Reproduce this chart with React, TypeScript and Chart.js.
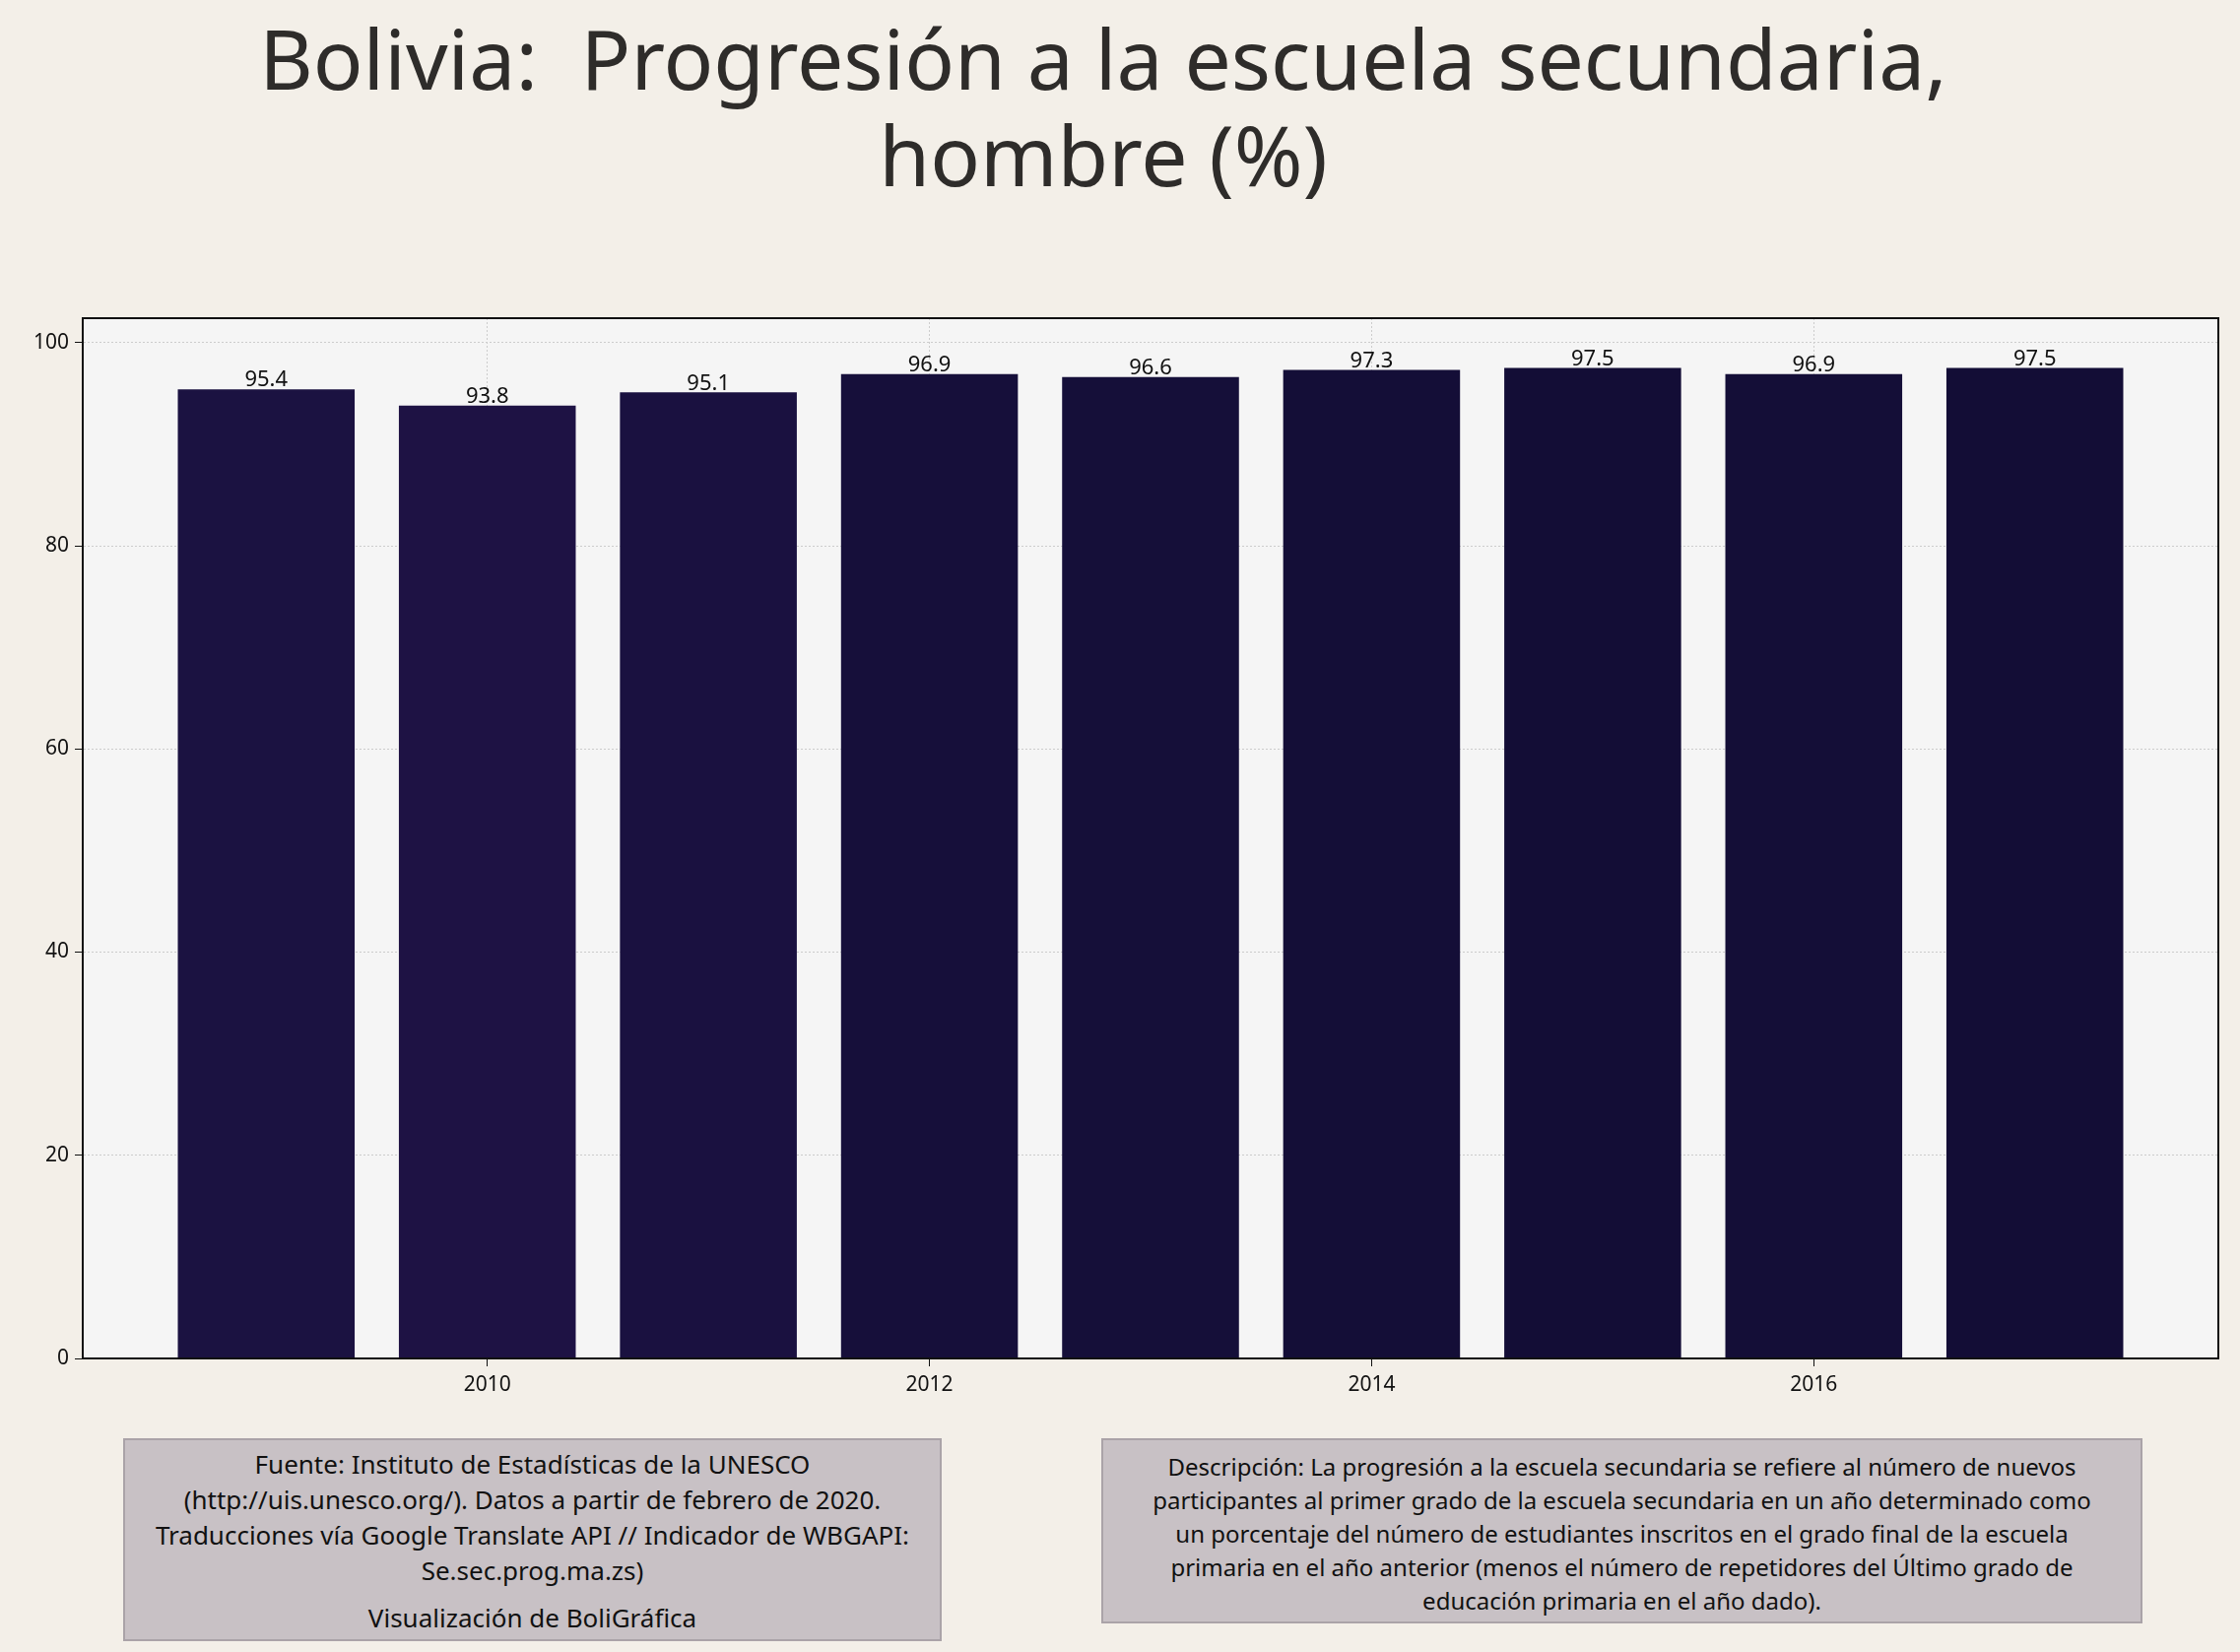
import { useEffect, useRef } from "react"
import { Chart, registerables, ChartConfiguration } from "chart.js"

Chart.register(...registerables)

const years = [2009, 2010, 2011, 2012, 2013, 2014, 2015, 2016, 2017]
const values = [95.4, 93.8, 95.1, 96.9, 96.6, 97.3, 97.5, 96.9, 97.5]
const barColors = ["#1b1241", "#1e1244", "#1a1140", "#160f3a", "#150f39", "#140e37", "#130d36", "#140e37", "#130d36"]
const xTicks = [2010, 2012, 2014, 2016]

const FONT = "'Noto Sans', sans-serif"

const frameAndLabels = {
  id: "frameAndLabels",
  afterDatasetsDraw(chart: Chart) {
    const { ctx, chartArea } = chart
    ctx.save()
    ctx.strokeStyle = "#111"
    ctx.lineWidth = 2
    ctx.strokeRect(chartArea.left, chartArea.top, chartArea.right - chartArea.left, chartArea.bottom - chartArea.top)
    const meta = chart.getDatasetMeta(0)
    ctx.fillStyle = "#111"
    ctx.font = `22px ${FONT}`
    ctx.textAlign = "center"
    ctx.textBaseline = "bottom"
    meta.data.forEach((el: any, i) => {
      ctx.fillText(values[i].toFixed(1), el.x, el.y + 2)
    })
    ctx.restore()
  },
}

const plotBg = {
  id: "plotBg",
  beforeDraw(chart: Chart) {
    const { ctx, chartArea } = chart
    ctx.save()
    ctx.fillStyle = "#f5f5f5"
    ctx.fillRect(chartArea.left, chartArea.top, chartArea.right - chartArea.left, chartArea.bottom - chartArea.top)
    ctx.restore()
  },
}

export default function App() {
  const chartRef = useRef<HTMLCanvasElement>(null)
  const chartInstance = useRef<Chart | null>(null)

  useEffect(() => {
    if (!chartRef.current) return
    if (chartInstance.current) chartInstance.current.destroy()
    const ctx = chartRef.current.getContext("2d")
    if (!ctx) return

    const config: ChartConfiguration = {
      type: "bar",
      data: {
        datasets: [
          {
            data: years.map((y, i) => ({ x: y, y: values[i] })) as any,
            backgroundColor: barColors,
            barPercentage: 0.8,
            categoryPercentage: 1,
          },
        ],
      },
      options: {
        responsive: false,
        animation: false,
        layout: { padding: { top: 323, right: 22, left: 0, bottom: 0 } },
        plugins: { legend: { display: false }, tooltip: { enabled: false } },
        scales: {
          x: {
            type: "linear",
            offset: false,
            min: 2008.17,
            max: 2017.83,
            afterFit: (s: any) => { s.height = 71 },
            afterBuildTicks: (s: any) => { s.ticks = xTicks.map((v) => ({ value: v })) },
            grid: { offset: false, color: "#cccccc", tickColor: "#111", tickLength: 8, drawTicks: true },
            border: { dash: [2, 2], color: "#111" },
            ticks: { color: "#111", font: { size: 21, family: FONT }, callback: (v: any) => String(v), padding: 6 },
          },
          y: {
            min: 0,
            max: 102.4,
            afterFit: (s: any) => { s.width = 84 },
            afterBuildTicks: (s: any) => { s.ticks = [0, 20, 40, 60, 80, 100].map((v) => ({ value: v })) },
            grid: { color: "#cccccc", tickColor: "#111", tickLength: 8 },
            border: { dash: [2, 2], color: "#111" },
            ticks: { color: "#111", font: { size: 21, family: FONT }, padding: 6 },
          },
        },
      },
      plugins: [plotBg, frameAndLabels],
    }

    chartInstance.current = new Chart(ctx, config)
    return () => {
      if (chartInstance.current) chartInstance.current.destroy()
    }
  }, [])

  const boxStyle: React.CSSProperties = {
    position: "absolute",
    background: "#c8c1c5",
    border: "2px solid #aaa3a8",
    color: "#111",
    fontFamily: FONT,
    fontSize: 26,
    lineHeight: "36px",
    textAlign: "center",
    boxSizing: "border-box",
    padding: "6px 18px",
  }

  return (
    <div style={{ position: "absolute", left: 0, top: 0, width: 2274, height: 1677, background: "#f3efe8", overflow: "hidden" }}>
      <div style={{ position: "absolute", top: 10, left: 0, width: 2240, textAlign: "center", fontFamily: FONT, fontSize: 84, lineHeight: "98px", color: "#2e2c2a" }}>
        Bolivia:&nbsp; Progresión a la escuela secundaria,<br />hombre (%)
      </div>
      <canvas ref={chartRef} width={2274} height={1450} style={{ position: "absolute", left: 0, top: 0 }} />
      <div style={{ ...boxStyle, left: 125, top: 1460, width: 831, height: 206, padding: "6px 30px" }}>
        Fuente: Instituto de Estadísticas de la UNESCO (http://uis.unesco.org/). Datos a partir de febrero de 2020. Traducciones vía Google Translate API // Indicador de WBGAPI: Se.sec.prog.ma.zs)
        <div style={{ marginTop: 12 }}>Visualización de BoliGráfica</div>
      </div>
      <div style={{ ...boxStyle, left: 1118, top: 1460, width: 1057, height: 188, fontSize: 24, lineHeight: "34px", padding: "10px 50px" }}>
        Descripción: La progresión a la escuela secundaria se refiere al número de nuevos participantes al primer grado de la escuela secundaria en un año determinado como un porcentaje del número de estudiantes inscritos en el grado final de la escuela primaria en el año anterior (menos el número de repetidores del Último grado de educación primaria en el año dado).
      </div>
    </div>
  )
}
